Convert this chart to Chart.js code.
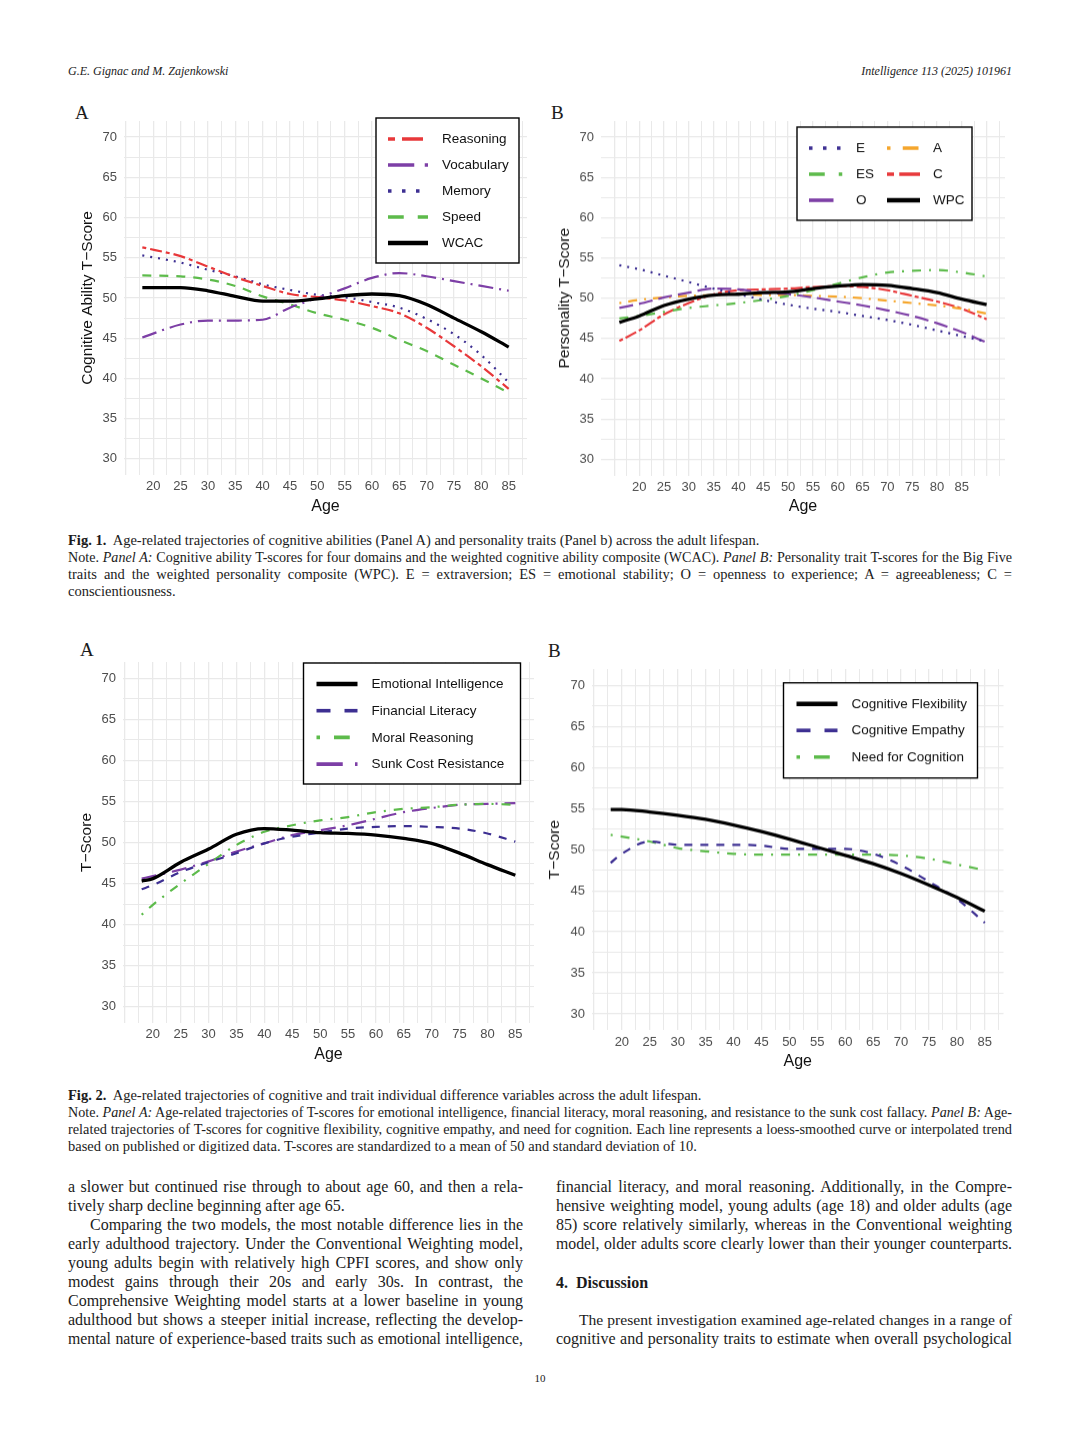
<!DOCTYPE html>
<html>
<head>
<meta charset="utf-8">
<title>Fig. 1 and Fig. 2</title>
<script src="https://cdn.jsdelivr.net/npm/chart.js@4.4.1/dist/chart.umd.min.js"></script>
<style>
  html, body { margin: 0; padding: 0; background: #fff; }
  #page { position: relative; width: 1080px; height: 1440px; overflow: hidden; color: #1b1b1b;
          font-family: "Liberation Serif", "DejaVu Serif", serif; }
  .t { position: absolute; white-space: nowrap; }
  .j { text-align: justify; text-align-last: justify; }
  .hdr { font-size: 12px; line-height: 12px; font-style: italic; }
  .lab { font-size: 19px; line-height: 19px; }
  .cap { font-size: 14.5px; line-height: 14.5px; left: 68px; width: 944px; }
  .body { font-size: 16px; line-height: 16px; }
  .lc { left: 68px; width: 455px; }
  .rc { left: 556px; width: 456px; }
  .wrap { position: absolute; }
</style>
</head>
<body>
<div id="page">
  <div class="t hdr" style="left:68px; top:65px;">G.E. Gignac and M. Zajenkowski</div>
  <div class="t hdr" style="right:68px; top:65px;">Intelligence 113 (2025) 101961</div>

  <div class="t lab" style="left:75px; top:103px;">A</div>
  <div class="t lab" style="left:551px; top:103px;">B</div>
  <div class="wrap" id="w1a"><canvas id="c1a"></canvas></div>
  <div class="wrap" id="w1b"><canvas id="c1b"></canvas></div>

  <div class="t cap" style="top:533px;"><b>Fig. 1.</b>&nbsp; Age-related trajectories of cognitive abilities (Panel A) and personality traits (Panel b) across the adult lifespan.</div>
  <div class="t cap j" style="top:550px;">Note. <i>Panel A:</i> Cognitive ability T-scores for four domains and the weighted cognitive ability composite (WCAC). <i>Panel B:</i> Personality trait T-scores for the Big Five</div>
  <div class="t cap j" style="top:567px;">traits and the weighted personality composite (WPC). E = extraversion; ES = emotional stability; O = openness to experience; A = agreeableness; C =</div>
  <div class="t cap" style="top:584px;">conscientiousness.</div>

  <div class="t lab" style="left:80px; top:640px;">A</div>
  <div class="t lab" style="left:548px; top:641px;">B</div>
  <div class="wrap" id="w2a"><canvas id="c2a"></canvas></div>
  <div class="wrap" id="w2b"><canvas id="c2b"></canvas></div>

  <div class="t cap" style="top:1088px;"><b>Fig. 2.</b>&nbsp; Age-related trajectories of cognitive and trait individual difference variables across the adult lifespan.</div>
  <div class="t cap j" style="top:1105px;">Note. <i>Panel A:</i> Age-related trajectories of T-scores for emotional intelligence, financial literacy, moral reasoning, and resistance to the sunk cost fallacy. <i>Panel B:</i> Age-</div>
  <div class="t cap j" style="top:1122px;">related trajectories of T-scores for cognitive flexibility, cognitive empathy, and need for cognition. Each line represents a loess-smoothed curve or interpolated trend</div>
  <div class="t cap" style="top:1139px;">based on published or digitized data. T-scores are standardized to a mean of 50 and standard deviation of 10.</div>

  <div class="t body lc j" style="top:1179px;">a slower but continued rise through to about age 60, and then a rela-</div>
  <div class="t body lc" style="top:1198px;">tively sharp decline beginning after age 65.</div>
  <div class="t body j" style="top:1217px; left:90px; width:433px;">Comparing the two models, the most notable difference lies in the</div>
  <div class="t body lc j" style="top:1236px;">early adulthood trajectory. Under the Conventional Weighting model,</div>
  <div class="t body lc j" style="top:1255px;">young adults begin with relatively high CPFI scores, and show only</div>
  <div class="t body lc j" style="top:1274px;">modest gains through their 20s and early 30s. In contrast, the</div>
  <div class="t body lc j" style="top:1293px;">Comprehensive Weighting model starts at a lower baseline in young</div>
  <div class="t body lc j" style="top:1312px;">adulthood but shows a steeper initial increase, reflecting the develop-</div>
  <div class="t body lc j" style="top:1331px;">mental nature of experience-based traits such as emotional intelligence,</div>

  <div class="t body rc j" style="top:1179px;">financial literacy, and moral reasoning. Additionally, in the Compre-</div>
  <div class="t body rc j" style="top:1198px;">hensive weighting model, young adults (age 18) and older adults (age</div>
  <div class="t body rc j" style="top:1217px;">85) score relatively similarly, whereas in the Conventional weighting</div>
  <div class="t body rc j" style="top:1236px;">model, older adults score clearly lower than their younger counterparts.</div>
  <div class="t body rc" style="top:1275px;"><b>4.&nbsp; Discussion</b></div>
  <div class="t body j" style="top:1312px; left:579px; width:433px;">The present investigation examined age-related changes in a range of</div>
  <div class="t body rc j" style="top:1331px;">cognitive and personality traits to estimate when overall psychological</div>

  <div class="t" style="left:0; width:1080px; text-align:center; top:1373px; font-size:11px; line-height:11px;">10</div>
</div>

<script>
// ---- data ----
const yTickLabels = [30, 35, 40, 45, 50, 55, 60, 65, 70];
const yGrid = [30, 32.5, 35, 37.5, 40, 42.5, 45, 47.5, 50, 52.5, 55, 57.5, 60, 62.5, 65, 67.5, 70];
const xTickLabels = [20, 25, 30, 35, 40, 45, 50, 55, 60, 65, 70, 75, 80, 85];
const xGridShort = [15, 17.5, 20, 22.5, 25, 27.5, 30, 32.5, 35, 37.5, 40, 42.5, 45, 47.5, 50,
                    52.5, 55, 57.5, 60, 62.5, 65, 67.5, 70, 72.5, 75, 77.5, 80, 82.5, 85, 87.5];
const xGridLong = [15, 17.5, 20, 22.5, 25, 27.5, 30, 32.5, 35, 37.5, 40, 42.5, 45, 47.5, 50,
                   52.5, 55, 57.5, 60, 62.5, 65, 67.5, 70, 72.5, 75, 77.5, 80, 82.5, 85, 87.5, 90, 92.5];

// Fig 1 A - cognitive abilities
const ages1a = [18, 25, 30, 35, 40, 45, 50, 55, 60, 65, 70, 75, 80, 85];
const reasoning  = [56.3, 55.2, 53.9, 52.6, 51.5, 50.5, 50.1, 49.7, 49.0, 48.1, 46.3, 44.0, 41.5, 38.7];
const vocabulary = [45.1, 46.7, 47.2, 47.2, 47.3, 48.8, 50.0, 51.2, 52.5, 53.1, 52.7, 52.1, 51.5, 50.9];
const memory     = [55.3, 54.4, 53.5, 52.7, 51.7, 51.0, 50.4, 50.1, 49.5, 48.8, 47.4, 45.5, 42.9, 39.5];
const speed      = [52.8, 52.7, 52.3, 51.5, 50.2, 49.2, 48.1, 47.3, 46.3, 44.8, 43.4, 41.7, 40.0, 38.2];
const wcac       = [51.3, 51.3, 50.9, 50.2, 49.6, 49.6, 49.9, 50.3, 50.5, 50.3, 49.2, 47.5, 45.8, 43.9];

// Fig 1 B - personality
const ages1b = [16, 20, 25, 30, 35, 40, 45, 50, 55, 60, 65, 70, 75, 80, 85, 90];
const extraversion = [54.1, 53.6, 52.8, 52.0, 51.2, 50.5, 49.8, 49.2, 48.7, 48.3, 47.8, 47.3, 46.7, 46.0, 45.3, 44.6];
const emoStability = [47.5, 47.8, 48.3, 48.8, 49.1, 49.4, 49.8, 50.3, 51.0, 51.8, 52.6, 53.2, 53.4, 53.5, 53.2, 52.7];
const openness     = [48.8, 49.3, 50.1, 50.7, 51.2, 51.1, 50.7, 50.5, 50.1, 49.6, 49.1, 48.5, 47.8, 46.9, 45.8, 44.5];
const agreeable    = [49.4, 49.8, 50.1, 50.3, 50.4, 50.5, 50.4, 50.4, 50.3, 50.2, 50.0, 49.7, 49.4, 49.1, 48.7, 48.1];
const conscient    = [44.7, 46.0, 48.0, 49.4, 50.5, 51.0, 51.1, 51.2, 51.4, 51.5, 51.4, 51.0, 50.3, 49.6, 48.7, 47.4];
const wpc          = [47.0, 47.8, 49.1, 49.9, 50.4, 50.5, 50.7, 50.8, 51.2, 51.5, 51.7, 51.6, 51.2, 50.7, 49.9, 49.2];

// Fig 2 A
const ages2 = [18, 20, 25, 30, 35, 40, 45, 50, 55, 60, 65, 70, 75, 80, 85];
const emoIntel   = [45.3, 45.6, 47.6, 49.2, 51.0, 51.7, 51.5, 51.2, 51.1, 50.9, 50.5, 49.9, 48.7, 47.3, 46.0];
const finLit     = [44.3, 44.8, 46.4, 47.6, 48.7, 49.9, 50.7, 51.2, 51.7, 51.9, 52.0, 51.9, 51.7, 51.1, 50.1];
const moralReas  = [41.2, 42.4, 45.0, 47.4, 49.7, 51.3, 52.1, 52.7, 53.1, 53.7, 54.1, 54.3, 54.6, 54.7, 54.6];
const sunkCost   = [45.6, 45.9, 46.7, 47.7, 48.9, 49.9, 50.9, 51.5, 52.1, 52.9, 53.7, 54.2, 54.6, 54.7, 54.8];

// Fig 2 B
const cogFlex    = [54.9, 54.9, 54.6, 54.2, 53.7, 53.0, 52.2, 51.3, 50.3, 49.3, 48.3, 47.1, 45.7, 44.2, 42.5];
const cogEmpathy = [48.4, 49.5, 51.0, 50.6, 50.6, 50.6, 50.5, 50.1, 50.1, 50.1, 49.5, 48.1, 46.1, 44.0, 41.1];
const needCog    = [51.8, 51.6, 51.0, 50.2, 49.8, 49.5, 49.4, 49.4, 49.4, 49.4, 49.4, 49.3, 48.9, 48.2, 47.5];

// ---- styles ----
const RED = "#e8383a", PURPLE = "#7d3fa6", INDIGO = "#3d2f92", GREEN = "#5dbb4b", ORANGE = "#f5a52a", BLACK = "#000000";
const FONT = '"Liberation Sans", Arial, sans-serif';

function line(label, ages, vals, color, dash, width, order) {
  return {
    label, data: ages.map((a, i) => ({ x: a, y: vals[i] })),
    borderColor: color, borderDash: dash, borderWidth: width || 2.2,
    borderCapStyle: "butt", pointRadius: 0, cubicInterpolationMode: "monotone",
    fill: false, order: order === undefined ? 1 : order
  };
}

// legend drawn inside the panel, with a framed box like the figure
const boxLegend = {
  id: "boxLegend",
  afterDatasetsDraw(chart, args, o) {
    if (!o.box) return;
    const ctx = chart.ctx, ox = o.origin[0], oy = o.origin[1];
    ctx.save();
    ctx.fillStyle = "#fff";
    ctx.fillRect(o.box[0] - ox, o.box[1] - oy, o.box[2] - o.box[0], o.box[3] - o.box[1]);
    ctx.strokeStyle = "#000"; ctx.lineWidth = 1.4; ctx.setLineDash([]);
    ctx.strokeRect(o.box[0] - ox, o.box[1] - oy, o.box[2] - o.box[0], o.box[3] - o.box[1]);
    o.items.forEach(it => {
      const ds = chart.data.datasets[it.i];
      const y = it.y - oy;
      ctx.beginPath();
      ctx.lineCap = "butt";
      ctx.setLineDash((ds.borderDash || []).map(d => d * 1.75));
      ctx.lineWidth = ds.borderWidth > 3 ? 4.6 : 3.6;
      ctx.strokeStyle = ds.borderColor;
      ctx.moveTo(it.x0 - ox, y); ctx.lineTo(it.x1 - ox, y); ctx.stroke();
      ctx.setLineDash([]);
      ctx.fillStyle = "#111";
      ctx.font = "13.5px " + FONT;
      ctx.textBaseline = "middle"; ctx.textAlign = "left";
      ctx.fillText(ds.label, it.tx - ox, y + 0.5);
    });
    ctx.restore();
  }
};

function makeChart(id, panel, yTitleX, yTitle, xRange, xGrid, datasets, legend) {
  const YW = 56, XH = 44, PT = 20, PR = 8;
  const left = panel[0] - YW, top = panel[1] - PT;
  const w = panel[2] - panel[0] + YW + PR, h = panel[3] - panel[1] + PT + XH;
  const wrap = document.getElementById("w" + id);
  wrap.style.left = left + "px"; wrap.style.top = top + "px";
  wrap.style.width = w + "px"; wrap.style.height = h + "px";
  legend.origin = [left, top];
  const gridColor = "#e9e9e9";
  new Chart(document.getElementById("c" + id), {
    type: "line",
    data: { datasets },
    plugins: [boxLegend],
    options: {
      responsive: true, maintainAspectRatio: false, animation: false,
      layout: { padding: { left: 0, top: PT, right: PR, bottom: 0 } },
      plugins: { legend: { display: false }, tooltip: { enabled: false }, boxLegend: legend },
      scales: {
        x: {
          type: "linear", min: xRange[0], max: xRange[1],
          afterBuildTicks: s => { s.ticks = xGrid.map(v => ({ value: v })); },
          afterFit: s => { s.height = XH; },
          ticks: { autoSkip: false, maxRotation: 0, padding: 4, color: "#4d4d4d",
                   font: { family: FONT, size: 13 },
                   callback: v => xTickLabels.includes(v) ? String(v) : "" },
          grid: { color: gridColor, lineWidth: c => (c.tick && c.tick.value % 5 === 0) ? 1.3 : 1, drawTicks: false },
          border: { display: false },
          title: { display: true, text: "Age", color: "#111", font: { family: FONT, size: 16 },
                   padding: { top: 0, bottom: 3 } }
        },
        y: {
          type: "linear", min: 28, max: 72,
          afterBuildTicks: s => { s.ticks = yGrid.map(v => ({ value: v })); },
          afterFit: s => { s.width = YW; },
          ticks: { autoSkip: false, padding: 7, color: "#4d4d4d",
                   font: { family: FONT, size: 13 },
                   callback: v => yTickLabels.includes(v) ? String(v) : "" },
          grid: { color: gridColor, lineWidth: c => (c.tick && c.tick.value % 5 === 0) ? 1.3 : 1, drawTicks: false },
          border: { display: false },
          title: { display: true, text: yTitle, color: "#111", font: { family: FONT, size: 15.5 },
                   padding: { top: yTitleX - left - 9.3, bottom: 0 } }
        }
      }
    }
  });
}

makeChart("1a", [124, 121, 527, 475], 88, "Cognitive Ability T\u2212Score", [14.65, 88.35], xGridShort, [
  line("Reasoning", ages1a, reasoning, RED, [4, 4, 12, 4]),
  line("Vocabulary", ages1a, vocabulary, PURPLE, [15, 6, 2, 6]),
  line("Memory", ages1a, memory, INDIGO, [2, 6]),
  line("Speed", ages1a, speed, GREEN, [9, 8]),
  line("WCAC", ages1a, wcac, BLACK, [], 3.3, 0)
], {
  box: [376, 118, 519, 263],
  items: [0, 1, 2, 3, 4].map((i, k) => ({ i, x0: 388, x1: 428, tx: 442, y: 139 + k * 26 }))
});

makeChart("1b", [601, 121, 1005, 474.5], 565, "Personality T\u2212Score", [12.3, 93.7], xGridLong, [
  line("E", ages1b, extraversion, INDIGO, [2, 6]),
  line("ES", ages1b, emoStability, GREEN, [9, 8, 2, 8]),
  line("O", ages1b, openness, PURPLE, [14, 6]),
  line("A", ages1b, agreeable, ORANGE, [2, 7, 9, 7]),
  line("C", ages1b, conscient, RED, [4, 3, 12, 3]),
  line("WPC", ages1b, wpc, BLACK, [], 3.3, 0)
], {
  box: [797, 127, 972, 220],
  items: [
    { i: 0, x0: 809, x1: 843, tx: 856, y: 148 },
    { i: 1, x0: 809, x1: 843, tx: 856, y: 174 },
    { i: 2, x0: 809, x1: 843, tx: 856, y: 200 },
    { i: 3, x0: 887, x1: 920, tx: 933, y: 148 },
    { i: 4, x0: 887, x1: 920, tx: 933, y: 174 },
    { i: 5, x0: 887, x1: 920, tx: 933, y: 200 }
  ]
});

makeChart("2a", [122.5, 662, 533.5, 1023], 86.7, "T\u2212Score", [14.65, 88.35], xGridShort, [
  line("Emotional Intelligence", ages2, emoIntel, BLACK, [], 3.3, 0),
  line("Financial Literacy", ages2, finLit, INDIGO, [8, 8]),
  line("Moral Reasoning", ages2, moralReas, GREEN, [2, 8, 9, 8]),
  line("Sunk Cost Resistance", ages2, sunkCost, PURPLE, [15, 7, 2, 7])
], {
  box: [303, 663, 520, 784],
  items: [0, 1, 2, 3].map((i, k) => ({ i, x0: 316, x1: 357, tx: 371, y: 684 + k * 26.7 }))
});

makeChart("2b", [591.5, 669.3, 1003, 1029.7], 554, "T\u2212Score", [14.65, 88.35], xGridShort, [
  line("Cognitive Flexibility", ages2, cogFlex, BLACK, [], 3.3, 0),
  line("Cognitive Empathy", ages2, cogEmpathy, INDIGO, [8, 8]),
  line("Need for Cognition", ages2, needCog, GREEN, [2, 8, 9, 8])
], {
  box: [783, 683, 977, 778],
  items: [0, 1, 2].map((i, k) => ({ i, x0: 796, x1: 837, tx: 851, y: 704 + k * 26.5 }))
});

// shrink any justified line that does not fit its column
document.querySelectorAll(".j").forEach(el => {
  let fs = parseFloat(getComputedStyle(el).fontSize);
  while (el.scrollWidth > el.clientWidth + 0.5 && fs > 8) {
    fs -= 0.2;
    el.style.fontSize = fs + "px";
  }
});
</script>
</body>
</html>
